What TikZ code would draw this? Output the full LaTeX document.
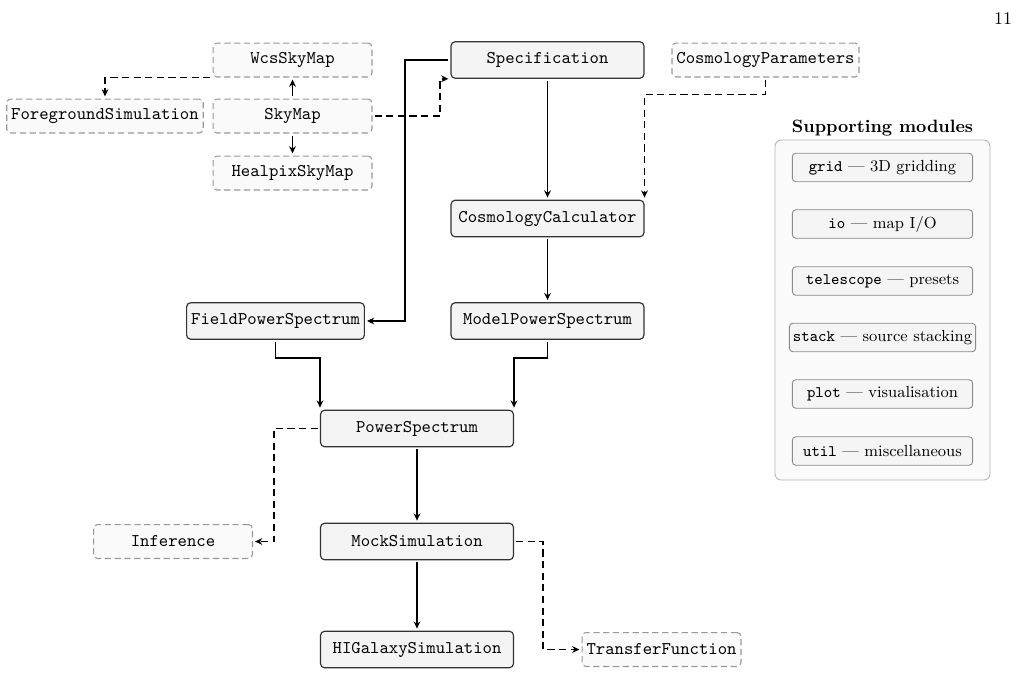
\documentclass[tikz,border=0pt]{standalone}
\usetikzlibrary{arrows.meta}
\definecolor{boxfill}{HTML}{F4F4F4}
\definecolor{boxdraw}{HTML}{333333}
\definecolor{optdraw}{HTML}{999999}
\definecolor{optfill}{HTML}{FAFAFA}
\definecolor{moddraw}{HTML}{8C8C8C}
\definecolor{modfill}{HTML}{F5F5F5}
\definecolor{contdraw}{HTML}{B4B4B4}
\definecolor{contfill}{HTML}{FBFBFB}
\begin{document}
\begin{tikzpicture}[x=0.56pt,y=-0.56pt,
  core/.style={draw=boxdraw, fill=boxfill, line width=0.65pt, rounded corners=2.2pt,
    minimum width=108pt, minimum height=20.4pt, inner xsep=2.5pt, font=\ttfamily},
  opt/.style={draw=optdraw, fill=optfill, line width=0.6pt, dash pattern=on 3.5pt off 2pt,
    rounded corners=2.2pt, minimum width=89pt, minimum height=19pt, inner xsep=2.5pt, font=\ttfamily},
  mod/.style={draw=moddraw, fill=modfill, line width=0.5pt, rounded corners=2pt,
    minimum width=101pt, minimum height=16pt, inner xsep=2pt, font=\small},
  flow/.style={-{Stealth[length=4pt,width=3.8pt]}, line width=0.8pt, shorten >=1.2pt, shorten <=1.2pt},
  dep/.style={flow, dash pattern=on 4pt off 2.5pt},
]
\useasboundingbox (0,0) rectangle (1018,680);

% page number
\node (page) at (1003,19) {11};

% core nodes
\node[core] (spec) at (547.5,60) {Specification};
\node[core] (calc) at (547.5,218.5) {CosmologyCalculator};
\node[core] (model) at (547.5,321) {ModelPowerSpectrum};
\node[core, minimum width=0pt] (field) at (275.5,321) {FieldPowerSpectrum};
\node[core] (ps) at (417,428.5) {PowerSpectrum};
\node[core] (mock) at (417,541.5) {MockSimulation};
\node[core] (hig) at (417,649.5) {HIGalaxySimulation};

% optional nodes
\node[opt] (wcs) at (292.5,60) {WcsSkyMap};
\node[opt] (sky) at (292.5,116) {SkyMap};
\node[opt] (healpix) at (292.5,173) {HealpixSkyMap};
\node[opt] (fg) at (105,116) {ForegroundSimulation};
\node[opt] (cp) at (765.5,60) {CosmologyParameters};
\node[opt] (inf) at (173,541.5) {Inference};
\node[opt] (tf) at (661.5,649.5) {TransferFunction};

% bend coordinates
\coordinate (skybend) at (440,116);
\coordinate (specbend) at (405,60);

% connectors
\draw[flow] (sky) -- (wcs);
\draw[flow] (sky) -- (healpix);
\draw[dep] (wcs.south west) -| (fg.north);
\draw[dep] (sky.east) -- (skybend) |- (spec.south west);
\draw[flow] (spec.west) -- (specbend) |- (field.east);
\draw[flow] (spec) -- (calc);
\draw[dep] (cp.south) -- ++(0,17) -| (calc.north east);
\draw[flow] (calc) -- (model);
\draw[flow] (field.south) -- ++(0,18) -| (ps.north west);
\draw[flow] (model.south) -- ++(0,18) -| (ps.north east);
\draw[dep] (ps.west) -- ++(-46,0) |- (inf.east);
\draw[flow] (ps) -- (mock);
\draw[flow] (mock) -- (hig);
\draw[dep] (mock.east) -- ++(29,0) |- (tf.west);

% supporting modules
\node[draw=contdraw, fill=contfill, rounded corners=3.5pt, line width=0.5pt,
  minimum width=120.4pt, minimum height=190.4pt] (support) at (882.5,310) {};
\node[font=\bfseries] (suptitle) at (882.5,128) {Supporting modules};
\node[mod] (grid) at (882.5,167.5) {\texttt{grid} --- 3D gridding};
\node[mod] (io) at (882.5,224) {\texttt{io} --- map I/O};
\node[mod] (tele) at (882.5,281) {\texttt{telescope} --- presets};
\node[mod] (stack) at (882.5,337.5) {\texttt{stack} --- source stacking};
\node[mod] (plot) at (882.5,394) {\texttt{plot} --- visualisation};
\node[mod] (util) at (882.5,451) {\texttt{util} --- miscellaneous};
\end{tikzpicture}
\end{document}
